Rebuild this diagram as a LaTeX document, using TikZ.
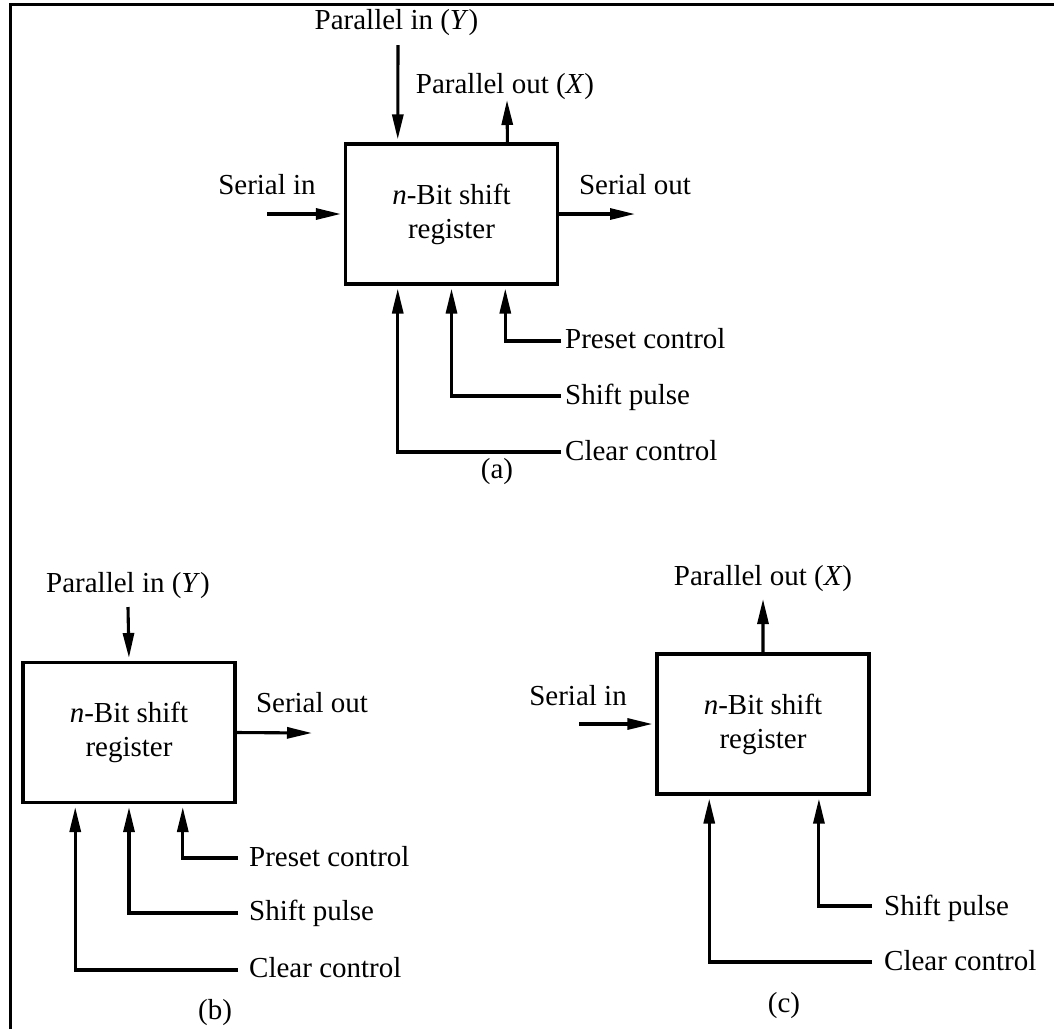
\documentclass[tikz,border=0pt]{standalone}
\usepackage{fontspec}
\setmainfont{Liberation Serif}
\usetikzlibrary{arrows.meta,calc}
\begin{document}
\begin{tikzpicture}[x=1pt,y=-1pt,
  every node/.style={font=\fontsize{29}{34}\selectfont, inner sep=0pt},
  reg/.style={draw, line width=3.1pt, minimum width=212pt, minimum height=140pt, align=center},
  sig/.style={line width=3.1pt, -{Triangle[length=25pt,width=11pt]}},
  into/.style={sig, shorten >=3pt},
  lbl/.style={anchor=base},
  lbll/.style={anchor=base west},
  frame/.style={line width=2.6pt}]
\useasboundingbox (0,0) rectangle (1054,1029);

% open frame: top and left edges
\draw[frame] (10.3,1029) -- (10.3,4.6) -- (1054,4.6);

% ---------------- (a) full register ----------------
\node[reg] (A) at (451.5,214) {\textit{n}-Bit shift\\register};
\coordinate (A-n1) at ($(A.north west)!0.25!(A.north east)$);
\coordinate (A-n3) at ($(A.north west)!0.76!(A.north east)$);
\coordinate (A-s1) at ($(A.south west)!0.25!(A.south east)$);
\coordinate (A-s2) at ($(A.south west)!0.5!(A.south east)$);
\coordinate (A-s3) at ($(A.south west)!0.75!(A.south east)$);

\coordinate (A-pin) at (398,45);
\coordinate (A-pout) at (507,100);
\coordinate (A-sin) at (267,214);
\coordinate (A-sout) at (635,214);
\coordinate (A-pre) at (561,341);
\coordinate (A-shf) at (561,396);
\coordinate (A-clr) at (561,452);

\draw[into] (A-pin) -- (A-n1);
\draw[sig] (A-n3) -- (A-pout);
\draw[into] (A-sin) -- (A.west);
\draw[sig] (A.east) -- (A-sout);
\draw[into] (A-pre) -| (A-s3);
\draw[into] (A-shf) -| (A-s2);
\draw[into] (A-clr) -| (A-s1);

\node[lbl] (A-tpin) at (396.5,29) {Parallel in (\textit{Y})};
\node[lbl] (A-tpout) at (505,93) {Parallel out (\textit{X})};
\node[lbl] (A-tsin) at (267,194) {Serial in};
\node[lbl] (A-tsout) at (635,194) {Serial out};
\node[lbll] (A-tpre) at (565,348) {Preset control};
\node[lbll] (A-tshf) at (565,404) {Shift pulse};
\node[lbll] (A-tclr) at (565,460) {Clear control};
\node[lbl] (A-cap) at (497,478) {(a)};

% ---------------- (b) parallel in, serial out ----------------
\node[reg] (B) at (129,732.5) {\textit{n}-Bit shift\\register};
\coordinate (B-n2) at ($(B.north west)!0.5!(B.north east)$);
\coordinate (B-s1) at ($(B.south west)!0.25!(B.south east)$);
\coordinate (B-s2) at ($(B.south west)!0.5!(B.south east)$);
\coordinate (B-s3) at ($(B.south west)!0.75!(B.south east)$);

\coordinate (B-pin) at (128,607);
\coordinate (B-sout) at (312,733);
\coordinate (B-pre) at (238,858);
\coordinate (B-shf) at (238,913);
\coordinate (B-clr) at (238,970);

\draw[into] (B-pin) -- (B-n2);
\draw[sig] (B.east) -- (B-sout);
\draw[into] (B-pre) -| (B-s3);
\draw[into] (B-shf) -| (B-s2);
\draw[into] (B-clr) -| (B-s1);

\node[lbl] (B-tpin) at (128,592) {Parallel in (\textit{Y})};
\node[lbl] (B-tsout) at (312,712) {Serial out};
\node[lbll] (B-tpre) at (249,866) {Preset control};
\node[lbll] (B-tshf) at (249,920) {Shift pulse};
\node[lbll] (B-tclr) at (249,977) {Clear control};
\node[lbl] (B-cap) at (215,1019) {(b)};

% ---------------- (c) serial in, parallel out ----------------
\node[reg] (C) at (763,724) {\textit{n}-Bit shift\\register};
\coordinate (C-n2) at ($(C.north west)!0.5!(C.north east)$);
\coordinate (C-s1) at ($(C.south west)!0.25!(C.south east)$);
\coordinate (C-s3) at ($(C.south west)!0.76!(C.south east)$);

\coordinate (C-pout) at (763,599);
\coordinate (C-sin) at (579,724);
\coordinate (C-shf) at (872,906);
\coordinate (C-clr) at (872,962);

\draw[sig] (C-n2) -- (C-pout);
\draw[into] (C-sin) -- (C.west);
\draw[into] (C-shf) -| (C-s3);
\draw[into] (C-clr) -| (C-s1);

\node[lbl] (C-tpout) at (763,585) {Parallel out (\textit{X})};
\node[lbl] (C-tsin) at (578,705) {Serial in};
\node[lbll] (C-tshf) at (884,915) {Shift pulse};
\node[lbll] (C-tclr) at (884,970) {Clear control};
\node[lbl] (C-cap) at (784,1012) {(c)};
\end{tikzpicture}
\end{document}
